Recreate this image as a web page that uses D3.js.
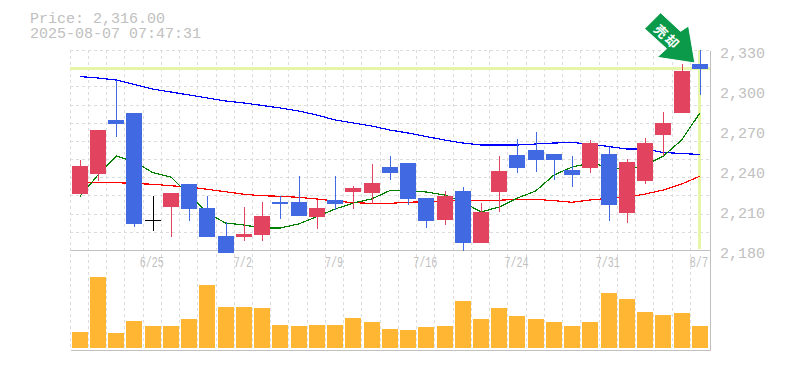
<!DOCTYPE html>
<html><head><meta charset="utf-8">
<style>html,body{margin:0;padding:0;background:#fff}svg{display:block}text{font-family:"Liberation Mono",monospace}</style>
<script src="https://cdn.jsdelivr.net/npm/d3@7/dist/d3.min.js"></script></head>
<body><svg id="c" width="785" height="370"></svg>
<script>
const opens =[2222,2237,2277.75,2283,2202.5,2212.25,2229.5,2211.5,2190.5,2189.75,2191.25,2216,2216,2204.75,2217.5,2223.5,2222.75,2242.25,2245.25,2219,2202.5,2224.25,2185.25,2223.5,2251.25,2255,2252,2240,2241.5,2252,2207.75,2231.75,2266.25,2282.75,2319.5];
const closes=[2243,2270,2274.5,2199.5,2202.5,2222.75,2210.75,2189.75,2177.75,2192,2205.5,2214.5,2205.5,2211.5,2214.5,2226.5,2230.25,2237.75,2218.25,2201.75,2220.5,2185.25,2208.5,2239.25,2241.5,2247.5,2247.5,2236.25,2260.25,2213.75,2246,2260.25,2275.25,2314.25,2316];
const highs =[2247.5,2270,2307.5,2283,2220.5,2222.75,2229.5,2220.5,2201,2212.25,2216,2220.5,2235.5,2217.5,2235.5,2228,2244.5,2250.5,2245.25,2219,2224.25,2227.25,2215.25,2250.5,2263.25,2268.5,2252,2250.5,2262.5,2257.25,2248.25,2264,2283.5,2319.5,2330];
const lows  =[2222,2231.75,2265,2197.5,2194.5,2190,2202,2189.75,2177.75,2186.75,2186.75,2203.25,2205.5,2195.75,2210,2210.75,2214.5,2232.5,2213.75,2196.5,2198.75,2179.25,2185.25,2208.5,2237.75,2238.5,2232.5,2227.25,2237.75,2201.75,2200.25,2229.5,2250.5,2282.75,2296.25];
const ma75  =[2310.1,2309,2307.5,2304.1,2300.75,2298.5,2296.25,2294,2291.75,2290.25,2288.4,2286.5,2284.25,2281.25,2277.5,2275.25,2273,2270,2267.75,2265.1,2262.5,2260.25,2258.75,2258.75,2258.75,2259.5,2260.25,2260.6,2259.5,2257.6,2255.75,2255.75,2253.1,2252.4,2251.6];
const ma25  =[2230.6,2230.6,2230.5,2229.9,2229.3,2228.2,2227.25,2225.5,2223.7,2221.8,2220.7,2220.3,2219.5,2218.25,2216.75,2215.5,2215,2215,2215.8,2216.2,2217,2217.3,2217.3,2217.3,2218,2218,2217,2215.8,2217.5,2218.8,2219.5,2222,2225,2229.5,2235.3];
const ma5   =[2220,2236.25,2250.5,2246.25,2238,2234.75,2221.25,2207.75,2200.25,2198.75,2196.5,2196.5,2199.5,2205,2210.75,2215.25,2218.25,2224.5,2224.5,2223.5,2221.25,2216,2208.5,2212.25,2219,2224.25,2236.25,2242.25,2245.25,2242.25,2240,2243.75,2250.5,2262.5,2282.75];
const volumes=[16,71,15,27,22,22,29,63,41,41,40,23,22,23,23,30,26,19,18,21,22,47,29,40,32,29,26,22,26,55,49,36,33,35,22];
const tickIdx=[4,9,14,19,24,29,34];
const tickLabels=["6/25","7/2","7/9","7/16","7/24","7/31","8/7"];
const priceTicks=[2330,2300,2270,2240,2210,2180];
const lastPrice=2316;
const title=["Price: 2,316.00","2025-08-07 07:47:31"];
const markerWords=["売","却"];

const svg=d3.select("#c");
const x=d3.scaleBand().domain(d3.range(opens.length)).range([70.6,709]).paddingInner(0);
const cx=i=>x(i)+x.bandwidth()/2;
const y=d3.scaleLinear().domain([2180,2330]).range([250,50]);
const v=d3.scaleLinear().domain([0,71]).range([348,277]);
const grid="#dcdcdc", axisC="#c0c0c0", txt="#c0c0c0";
const up="#e2435f", down="#4169e1", flat="#000", vol="#ffb733", hl="#e6f5a8";
const barW=16;
const g=svg.append("g").attr("shape-rendering","crispEdges");
// grid
const hg=d3.range(0,12).map(i=>2330-i*150/11);
g.selectAll(".h").data(hg).join("line").attr("x1",70).attr("x2",710).attr("y1",d=>Math.round(y(d))+.5).attr("y2",d=>Math.round(y(d))+.5).attr("stroke",grid).attr("stroke-dasharray","3,3");
g.selectAll(".v").data(d3.range(0,35)).join("line").attr("x1",d=>Math.round(x(d))-.5).attr("x2",d=>Math.round(x(d))-.5).attr("y1",50).attr("y2",350).attr("stroke",grid).attr("stroke-dasharray","3,3");
// highlight
g.append("line").attr("x1",70).attr("x2",710).attr("y1",y(lastPrice)).attr("y2",y(lastPrice)).attr("stroke",hl).attr("stroke-width",3);
g.append("line").attr("x1",cx(34)).attr("x2",cx(34)).attr("y1",50).attr("y2",249).attr("stroke",hl).attr("stroke-width",3);
// axes frame
[[70,250,710,250],[70,350,710,350],[710,50,710,350]].forEach(a=>g.append("line").attr("x1",a[0]+.5).attr("y1",a[1]+.5).attr("x2",a[2]+.5).attr("y2",a[3]+.5).attr("stroke",axisC));
// volumes
g.selectAll(".vb").data(volumes).join("rect").attr("x",(d,i)=>Math.round(cx(i)-barW/2)).attr("width",barW).attr("y",d=>v(d)).attr("height",d=>v(0)-v(d)).attr("fill",vol);
// lines
const line=d3.line().x((d,i)=>cx(i)).y(d=>y(d));
[[ma75,"#0000ff"],[ma25,"#ff0000"],[ma5,"#008000"]].forEach(([s,c])=>svg.append("path").attr("d",line(s)).attr("fill","none").attr("stroke",c).attr("stroke-width",1.2).attr("shape-rendering","crispEdges"));
// candles
const col=i=>closes[i]>opens[i]?up:closes[i]<opens[i]?down:flat;
const cg=svg.append("g").attr("shape-rendering","crispEdges");
opens.forEach((o,i)=>{
  const c=col(i),X=Math.round(cx(i));
  cg.append("line").attr("x1",X+.5).attr("x2",X+.5).attr("y1",y(highs[i])).attr("y2",y(lows[i])).attr("stroke",c);
  const t=Math.min(y(o),y(closes[i])),h=Math.abs(y(o)-y(closes[i]));
  cg.append("rect").attr("x",X-barW/2).attr("width",barW).attr("y",t).attr("height",Math.max(h,1)).attr("fill",c);
});
// marker arrow
const tipX=cx(34)-5,tipY=y(lastPrice)-5.67;
svg.append("g").attr("transform",`translate(${tipX},${tipY})`).append("polygon").attr("fill","#0a9a4a").attr("stroke","#fff").attr("stroke-width",1)
  .attr("points",[[-34.3,-50.3],[-50.3,-34.3],[-28.3,-14.3],[-37.7,-5.7],[0,0],[-6.3,-37],[-14.3,-31.7]].join(" "));
markerWords.forEach((w,i)=>svg.append("text").attr("transform",`translate(${tipX-33.5+i*11},${tipY-32+i*10}) rotate(45)`).attr("font-size",13).attr("font-weight","bold").attr("fill","#fff").attr("text-anchor","middle").attr("dominant-baseline","central").style("font-family","'Noto Sans CJK JP'").text(w));
// text
svg.selectAll(".t").data(title).join("text").attr("x",30).attr("y",(d,i)=>23+i*15).attr("font-size",15).attr("fill",txt).text(d=>d);
svg.selectAll(".p").data(priceTicks).join("text").attr("x",720).attr("y",d=>y(d)+8).attr("font-size",15).attr("fill",txt).text(d=>d3.format(",")(d));
svg.selectAll(".d").data(tickIdx).join("text").attr("transform",i=>`translate(${cx(i)-1},267) scale(.67,1)`).attr("font-size",15).attr("text-anchor","middle").attr("fill",txt).text((d,i)=>tickLabels[i]);
</script></body></html>
